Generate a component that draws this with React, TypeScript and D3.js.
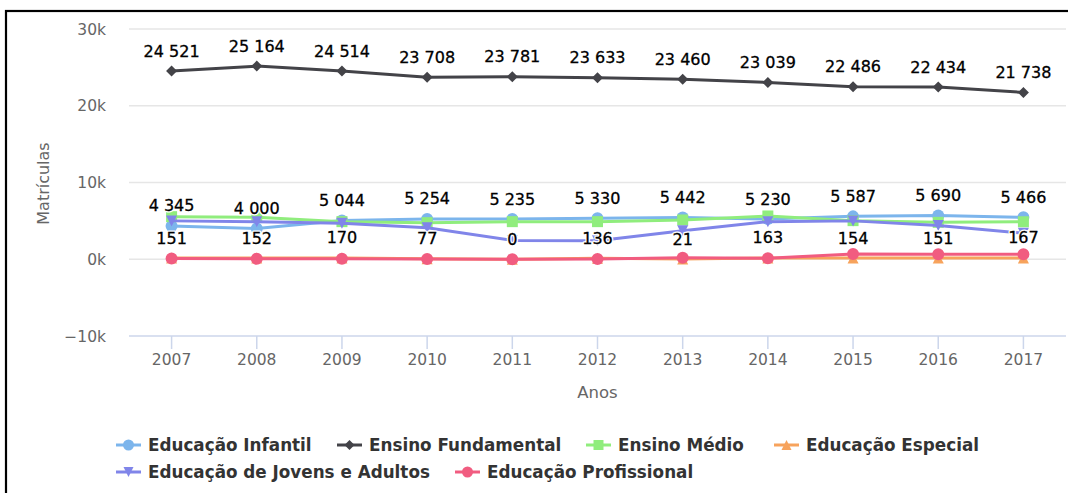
import { useMemo } from "react";
import * as d3 from "d3";

const WIDTH = 1068;
const HEIGHT = 493;
const PLOT = { left: 129, right: 1066, top: 29, bottom: 336 };
const FONT = "'DejaVu Sans', Verdana, sans-serif";

const years = ["2007", "2008", "2009", "2010", "2011", "2012", "2013", "2014", "2015", "2016", "2017"];
const infantil = [4345, 4000, 5044, 5254, 5235, 5330, 5442, 5230, 5587, 5690, 5466];
const fundamental = [24521, 25164, 24514, 23708, 23781, 23633, 23460, 23039, 22486, 22434, 21738];
const medio = [5550, 5470, 4900, 4770, 4900, 4900, 5120, 5640, 5030, 4810, 4900];
const especial = [151, 152, 170, 77, 0, 136, 21, 163, 154, 151, 167];
const jovensAdultos = [5000, 4900, 4700, 4100, 2450, 2400, 3700, 4900, 5000, 4400, 3400];
const profissional = [90, 60, 50, 30, 10, 40, 200, 130, 690, 650, 650];
const yTicks = [-10000, 0, 10000, 20000, 30000];

const series = [
  { name: "Educação Infantil", values: infantil, color: "#7cb5ec", symbol: "circle", labels: true },
  { name: "Ensino Fundamental", values: fundamental, color: "#434348", symbol: "diamond", labels: true },
  { name: "Ensino Médio", values: medio, color: "#90ed7d", symbol: "square", labels: false },
  { name: "Educação Especial", values: especial, color: "#f7a35c", symbol: "triangle", labels: true },
  { name: "Educação de Jovens e Adultos", values: jovensAdultos, color: "#8085e9", symbol: "triangle-down", labels: false },
  { name: "Educação Profissional", values: profissional, color: "#f15c80", symbol: "circle", labels: false },
];

// legend layout (text x, row y)
const legendPos = [
  { x: 148, y: 445 },
  { x: 369, y: 445 },
  { x: 618, y: 445 },
  { x: 806, y: 445 },
  { x: 148, y: 472 },
  { x: 487, y: 472 },
];

const fmt = d3.formatLocale({ decimal: ",", thousands: " ", grouping: [3], currency: ["", ""] }).format(",d");

const markerPath = (type: string, x: number, y: number, r: number) => {
  switch (type) {
    case "diamond":
      return `M${x},${y - r}L${x + r},${y}L${x},${y + r}L${x - r},${y}Z`;
    case "square":
      return `M${x - r},${y - r}h${2 * r}v${2 * r}h${-2 * r}Z`;
    case "triangle":
      return `M${x},${y - r}L${x + r},${y + r}L${x - r},${y + r}Z`;
    case "triangle-down":
      return `M${x - r},${y - r}L${x + r},${y - r}L${x},${y + r}Z`;
    default:
      return `M${x - r},${y}a${r},${r} 0 1,0 ${2 * r},0a${r},${r} 0 1,0 ${-2 * r},0Z`;
  }
};

export default function App() {
  const xScale = useMemo(
    () => d3.scaleBand().domain(years).range([PLOT.left, PLOT.right]),
    []
  );
  const yScale = useMemo(
    () => d3.scaleLinear().domain([-10000, 30000]).range([PLOT.bottom, PLOT.top]),
    []
  );
  const cx = (yr: string) => (xScale(yr) || 0) + xScale.bandwidth() / 2;

  const line = d3
    .line<number>()
    .x((_, i) => cx(years[i]))
    .y((d) => yScale(d));

  return (
    <svg
      width={WIDTH}
      height={HEIGHT}
      style={{ position: "absolute", left: 0, top: 0, background: "#fff" }}
      fontFamily={FONT}
    >
      <rect x={0} y={0} width={WIDTH} height={HEIGHT} fill="#fff" />

      {/* grid */}
      {yTicks.filter((t) => t !== -10000).map((t) => (
        <line key={t} x1={PLOT.left} x2={PLOT.right} y1={yScale(t)} y2={yScale(t)} stroke="#e6e6e6" strokeWidth={1.5} />
      ))}

      {/* y labels */}
      {yTicks.map((t) => (
        <text key={t} x={106} y={yScale(t) + 5.5} textAnchor="end" fontSize={15.5} fill="#666">
          {(t < 0 ? "\u2212" : "") + Math.abs(t / 1000) + "k"}
        </text>
      ))}

      {/* x axis */}
      <line x1={PLOT.left} x2={PLOT.right} y1={PLOT.bottom} y2={PLOT.bottom} stroke="#ccd6eb" strokeWidth={1.5} />
      {years.map((yr) => (
        <g key={yr}>
          <line x1={cx(yr)} x2={cx(yr)} y1={PLOT.bottom} y2={PLOT.bottom + 13} stroke="#ccd6eb" strokeWidth={1.5} />
          <text x={cx(yr)} y={365} textAnchor="middle" fontSize={15.5} fill="#666">{yr}</text>
        </g>
      ))}

      {/* axis titles */}
      <text x={(PLOT.left + PLOT.right) / 2} y={398} textAnchor="middle" fontSize={16.5} fill="#666">Anos</text>
      <text transform={`translate(49, ${(PLOT.top + PLOT.bottom) / 2 + 1}) rotate(-90)`} textAnchor="middle" fontSize={16} fill="#666">
        Matrículas
      </text>

      {/* series */}
      {series.map((s) => (
        <g key={s.name}>
          <path d={line(s.values) || ""} fill="none" stroke={s.color} strokeWidth={3} strokeLinejoin="round" />
          {s.values.map((v, i) => (
            <path key={i} d={markerPath(s.symbol, cx(years[i]), yScale(v), s.symbol === "circle" ? 6 : 5.5)} fill={s.color} />
          ))}
        </g>
      ))}

      {/* data labels */}
      {series.filter((s) => s.labels).map((s) => (
        <g key={s.name + "-labels"}>
          {s.values.map((v, i) => (
            <g key={i}>
              <text x={cx(years[i])} y={yScale(v) - 14.5} textAnchor="middle" fontSize={16} fill="#fff" stroke="#fff" strokeWidth={3} strokeLinejoin="round">
                {fmt(v)}
              </text>
              <text x={cx(years[i])} y={yScale(v) - 14.5} textAnchor="middle" fontSize={16} fill="#000" stroke="#000" strokeWidth={0.3}>
                {fmt(v)}
              </text>
            </g>
          ))}
        </g>
      ))}

      {/* legend */}
      {series.map((s, i) => {
        const p = legendPos[i];
        const sx = p.x - 32;
        return (
          <g key={s.name + "-legend"}>
            <line x1={sx} x2={sx + 25} y1={p.y} y2={p.y} stroke={s.color} strokeWidth={3} />
            <path d={markerPath(s.symbol, sx + 12.5, p.y, s.symbol === "circle" ? 5.5 : 5)} fill={s.color} />
            <text x={p.x} y={p.y + 6} fontSize={16.8} fontWeight="bold" fill="#333">{s.name}</text>
          </g>
        );
      })}

      {/* frame */}
      <rect x={6} y={11} width={WIDTH + 10} height={HEIGHT + 10} fill="none" stroke="#000" strokeWidth={2.2} />
    </svg>
  );
}
